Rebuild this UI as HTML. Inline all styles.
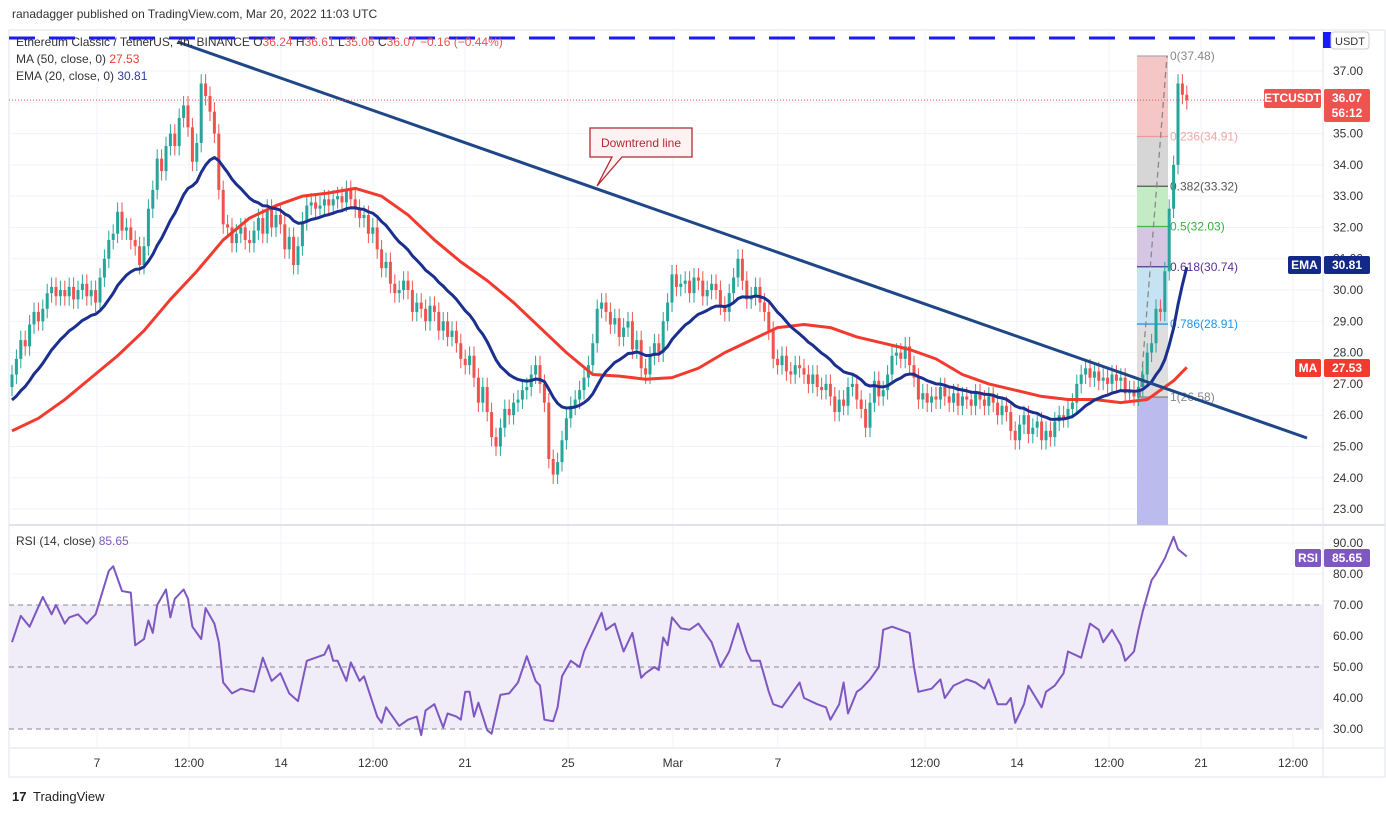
<!DOCTYPE html>
<html><head><meta charset="utf-8">
<style>
body{margin:0;background:#fff;font-family:"Liberation Sans",sans-serif;}
#wrap{position:relative;width:1386px;height:813px;overflow:hidden;}
svg text{font-family:"Liberation Sans",sans-serif;}
</style></head>
<body>
<div id="wrap">
<svg id="svg" width="1386" height="813"></svg>
</div>
<script>
const closes=[27.3,27.8,28.4,28.2,28.9,29.3,29.0,29.4,29.9,30.1,
29.8,30.0,29.8,30.1,29.7,30.0,30.2,29.8,30.0,29.6,
30.4,31.0,31.6,31.8,32.5,31.9,32.0,31.6,31.4,30.8,
31.4,32.6,33.2,34.2,33.8,34.6,35.0,34.6,35.5,35.9,
35.2,34.1,34.7,36.6,36.2,35.7,35.0,33.2,32.1,32.0,
31.5,31.8,32.0,31.6,31.5,31.9,32.3,31.8,32.6,32.0,
32.4,32.1,31.3,31.7,30.8,31.4,32.2,32.7,32.8,32.6,
32.7,32.9,32.7,32.9,33.0,32.8,33.2,32.9,32.6,32.3,
32.4,31.8,32.0,31.3,30.7,30.9,30.2,29.9,30.0,30.3,
30.0,29.3,29.6,29.4,29.0,29.5,29.3,28.7,29.0,28.5,
28.7,28.3,27.8,27.6,27.9,27.2,26.4,26.9,26.1,25.3,
25.0,25.6,26.2,26.0,26.4,26.5,26.8,26.9,27.3,27.6,
27.0,26.4,24.6,24.1,24.5,25.2,25.9,26.3,26.5,26.8,
27.2,27.6,28.3,29.4,29.6,29.3,28.9,29.1,28.5,28.8,
29.0,28.1,28.4,27.5,27.3,27.9,28.3,28.0,29.0,29.6,
30.5,30.1,30.2,30.3,29.9,30.4,30.3,29.8,30.0,30.2,
30.0,29.5,29.3,29.9,30.4,31.0,30.3,29.7,29.8,30.1,
29.6,29.3,28.7,27.8,27.6,27.9,27.4,27.3,27.6,27.5,
27.3,27.0,27.3,26.9,26.8,27.0,26.6,26.1,26.5,26.3,
26.9,27.0,26.5,26.2,25.6,26.4,27.1,26.6,26.8,27.3,
27.9,28.0,27.8,28.2,27.6,27.2,26.5,26.7,26.4,26.6,
26.5,26.9,26.6,26.4,26.7,26.3,26.6,26.5,26.3,26.7,
26.5,26.3,26.6,26.4,26.0,26.3,26.1,25.5,25.2,25.7,
26.0,25.4,25.6,25.8,25.2,25.5,25.3,25.8,26.0,25.9,
26.2,26.4,27.0,27.3,27.5,27.2,27.4,27.1,27.2,27.0,
27.3,27.1,27.2,26.7,26.8,26.6,26.9,27.3,28.0,28.3,
29.4,29.3,30.6,32.6,34.0,36.6,36.24,36.07];
const firstOpen=[26.9];
const maDaily=[25.5,25.9,26.5,27.2,27.9,28.7,29.7,30.6,31.6,32.3,32.7,33.0,33.1,33.25,33.0,32.4,31.6,30.9,30.3,29.6,28.8,28.0,27.3,27.25,27.15,27.2,27.5,28.0,28.4,28.8,28.9,28.8,28.5,28.3,28.1,27.8,27.3,27.0,26.8,26.6,26.5,26.5,26.4,26.5,27.1,27.53];
const emaSeed=[26.4];
const rsiIdx=[0,2,4,7,9,10,12,13,15,17,19,22,23,25,27,28,30,31,32,33,35,36,37,39,40,41,43,44,46,47,48,50,52,55,57,59,61,63,65,67,69,71,72,73,74,76,77,79,80,83,84,85,88,90,92,93,94,96,98,99,101,102,103,104,105,106,108,109,111,113,115,117,119,120,121,123,124,125,127,129,130,134,135,137,139,141,143,144,146,147,148,149,150,152,154,156,159,161,163,165,167,168,170,172,173,175,177,179,180,183,185,186,188,189,190,192,193,195,197,198,200,202,204,205,206,209,211,212,214,217,219,221,222,224,226,227,228,230,231,234,235,237,239,240,243,245,247,248,250,252,253,255,256,257,259,260,262,264,265,267];
const rsiVal=[58,66.5,63,72.6,67,70,64,66,67,64,67,81,82.5,74.5,74,57,59,65,61,70,75,66,72,75,72,63,59,69,64,58,45,41.5,43,42,53,45.5,48,41.5,39,52,53,54,57,52,52,45.5,51.5,45.5,47,34,32,37,31,33,34,28,36,38,30.5,35,34,33,42,42,34,38.5,29.6,28.5,41,41.5,45,53.5,45.5,44,33,32.5,37,47,52,50,55,67.5,62,64,55,61,46.5,48,50,49,59.5,57,66,62.5,62,64,58,50,55,64,55,52,52,42,38,37,41,45,40,38,37,33,38,45,35,42,43,46,50,62,63,62,61,50,42,43,46,40,44,46,45,43,46,38,38,40,32,38,44,37,42,44,48,55,53,64,62,58,62,57,52,55,62,68,78,80,85,92,88,85.65];
const priceTicks=[23,24,25,26,27,28,29,30,31,32,33,34,35,36,37];
const rsiTicks=[30,40,50,60,70,80,90];
const timeLabels=["7","12:00","14","12:00","21","25","Mar","7","12:00","14","12:00","21","12:00"];
const timeLabelDays=[0,0.5,1,1.5,2,2.56,3.13,3.7,4.5,5,5.5,6,6.5];
const fibLevels=[0,0.236,0.382,0.5,0.618,0.786,1];
const fibHigh=[37.48], fibLow=[26.58];

const NS="http://www.w3.org/2000/svg";
const svg=document.getElementById('svg');
function el(t,a,p){const e=document.createElementNS(NS,t);for(const k in a)e.setAttribute(k,a[k]);(p||svg).appendChild(e);return e;}
const yP=p=>71+(37-p)*31.29;
const xI=i=>12+i*4.4;
const yR=v=>543+(90-v)*3.1;
const xDay=d=>97+d*184;
const L=9,R=1323,TOP=30,MID=525,BOT=748;

el('rect',{x:L,y:TOP,width:1376,height:747,fill:'#fff',stroke:'#e0e3eb'});
for(const d of timeLabelDays){el('line',{x1:xDay(d),x2:xDay(d),y1:TOP,y2:BOT,stroke:'#f0f3fa'});}
for(const p of priceTicks){el('line',{x1:L,x2:R,y1:yP(p),y2:yP(p),stroke:'#f0f3fa'});}
for(const v of rsiTicks){el('line',{x1:L,x2:R,y1:yR(v),y2:yR(v),stroke:'#f0f3fa'});}
el('line',{x1:L,x2:1385,y1:MID,y2:MID,stroke:'#e0e3eb','stroke-width':2});
el('line',{x1:L,x2:1385,y1:BOT,y2:BOT,stroke:'#e0e3eb'});
el('line',{x1:R,x2:R,y1:TOP,y2:777,stroke:'#e0e3eb'});

let t=el('text',{x:12,y:18,'font-size':12,fill:'#333'});t.textContent='ranadagger published on TradingView.com, Mar 20, 2022 11:03 UTC';


const fH=fibHigh[0],fL=fibLow[0];
const fibFill=['#f4c7c6','#d6d6d6','#c3ecc4','#d5c6e4','#c5e3f3','#dedede'];
const fibLine=['#aaa','#e99','#555','#4caf50','#5b2e91','#2196f3','#888'];
const fibTxt=['#888','#f4a6a4','#555','#38b03c','#5b2e91','#2196f3','#888'];
const fx1=1137,fx2=1168;
for(let k=0;k<6;k++){const a=fH-(fH-fL)*fibLevels[k],b=fH-(fH-fL)*fibLevels[k+1];
 const r=el('rect',{x:fx1,y:yP(a),width:fx2-fx1,height:yP(b)-yP(a),fill:fibFill[k]});
 }
el('rect',{x:fx1,y:yP(fL),width:fx2-fx1,height:MID-yP(fL),fill:'#bcbbee'});
fibLevels.forEach((lv,k)=>{const p=fH-(fH-fL)*lv;
 el('line',{x1:fx1,x2:fx2,y1:yP(p),y2:yP(p),stroke:fibLine[k],'stroke-width':1.3});
 const tx=el('text',{x:fx2+2,y:yP(p)+4,'font-size':12,fill:fibTxt[k]});
 tx.textContent=lv+'('+p.toFixed(2)+')';
 });
el('line',{x1:1140,y1:yP(fL),x2:1167,y2:yP(fH),stroke:'#888','stroke-dasharray':'6,4','stroke-width':1.3});

for(let i=0;i<closes.length;i++){
 const o=i?closes[i-1]:firstOpen[0],c=closes[i];
 const up=c>=o,col=up?'#26a69a':'#ef5350';
 const hi=Math.max(o,c)+0.3,lo=Math.min(o,c)-0.3;
 el('line',{x1:xI(i),x2:xI(i),y1:yP(hi),y2:yP(lo),stroke:col,'stroke-width':1});
 const b=el('rect',{x:xI(i)-1.5,y:yP(Math.max(o,c)),width:3,height:Math.max(1,Math.abs(yP(o)-yP(c))),fill:col});
 
}
let d='';maDaily.forEach((v,k)=>{const i=Math.min(k*6,closes.length-1);d+=(k?'L':'M')+xI(i)+','+yP(v);});
let ma=el('path',{d,fill:'none',stroke:'#f23b2e','stroke-width':3,'stroke-linejoin':'round'});

let e=emaSeed[0],al=2/21;d='';
closes.forEach((c,i)=>{e=e+al*(c-e);d+=(i?'L':'M')+xI(i)+','+yP(e);});
let em=el('path',{d,fill:'none',stroke:'#1b2f8f','stroke-width':3,'stroke-linejoin':'round'});

let tl=el('line',{x1:178,y1:42,x2:1307,y2:438,stroke:'#1f4788','stroke-width':3});

el('line',{x1:L,x2:R,y1:38,y2:38,stroke:'#1a1aff','stroke-width':3,'stroke-dasharray':'26,14'});
el('rect',{x:R,y:32,width:8,height:16,fill:'#1a1aff'});
el('line',{x1:L,x2:R,y1:yP(closes[closes.length-1]),y2:yP(closes[closes.length-1]),stroke:'#ef5350','stroke-dasharray':'1,2'});

const cg=el('g',{});
el('path',{d:'M590,128 H692 V157 H622 L597,186 L612,157 H590 Z',fill:'#fff2f2',stroke:'#b22833','stroke-width':1.3},cg);
t=el('text',{x:641,y:147,'font-size':12,fill:'#b22833','text-anchor':'middle'},cg);t.textContent='Downtrend line';

t=el('text',{x:16,y:46,'font-size':12,fill:'#333'});
t.innerHTML='Ethereum Classic / TetherUS, 4h, BINANCE  O<tspan fill="#ef5350">36.24</tspan>  H<tspan fill="#ef5350">36.61</tspan>  L<tspan fill="#ef5350">35.06</tspan>  C<tspan fill="#ef5350">36.07  −0.16 (−0.44%)</tspan>';

t=el('text',{x:16,y:63,'font-size':12,fill:'#333'});t.innerHTML='MA (50, close, 0)  <tspan fill="#f23b2e">27.53</tspan>';

t=el('text',{x:16,y:80,'font-size':12,fill:'#333'});t.innerHTML='EMA (20, close, 0)  <tspan fill="#2a3f9f">30.81</tspan>';


el('rect',{x:L,y:yR(70),width:R-L,height:yR(30)-yR(70),fill:'#f0ecf8'});
for(const v of [70,50,30])el('line',{x1:L,x2:R,y1:yR(v),y2:yR(v),stroke:'#8a8790','stroke-dasharray':'5,4'});
let rd='';rsiIdx.forEach((ix,k)=>{rd+=(k?'L':'M')+xI(ix)+','+yR(rsiVal[k]);});
let rl=el('path',{d:rd,fill:'none',stroke:'#7e57c2','stroke-width':2,'stroke-linejoin':'round'});

t=el('text',{x:16,y:545,'font-size':12,fill:'#333'});t.innerHTML='RSI (14, close)  <tspan fill="#7e57c2">85.65</tspan>';


for(const p of priceTicks){t=el('text',{x:1333,y:yP(p)+4,'font-size':12,fill:'#333'});t.textContent=p.toFixed(2);
 }
for(const v of rsiTicks){t=el('text',{x:1333,y:yR(v)+4,'font-size':12,fill:'#333'});t.textContent=v.toFixed(2);
 }
timeLabels.forEach((s,k)=>{t=el('text',{x:xDay(timeLabelDays[k]),y:767,'font-size':12,fill:'#333','text-anchor':'middle'});t.textContent=s;
 });

function tag(x,y,w,h,fill,txt,name){const g=el('g',{});
 el('rect',{x,y,width:w,height:h,fill,rx:2},g);
 txt.forEach((s,k)=>{const q=el('text',{x:x+w/2,y:y+13+k*15,'font-size':12,fill:'#fff','text-anchor':'middle','font-weight':'bold'},g);q.textContent=s;});}
t=el('text',{x:1350,y:45,'font-size':11,fill:'#333','text-anchor':'middle'});t.textContent='USDT';

el('rect',{x:1331,y:32,width:38,height:17,fill:'none',stroke:'#ccc',rx:3});
tag(1264,89,57,19,'#ef5350',['ETCUSDT'],'symbol-tag');
tag(1324,89,46,33,'#ef5350',['36.07','56:12'],'last-price-tag');
tag(1288,256,33,18,'#12298a',['EMA'],'ema-tag');
tag(1324,256,46,18,'#12298a',['30.81'],'ema-value-tag');
tag(1295,359,26,18,'#f23b2e',['MA'],'ma-tag');
tag(1324,359,46,18,'#f23b2e',['27.53'],'ma-value-tag');
tag(1295,549,26,18,'#7e57c2',['RSI'],'rsi-tag');
tag(1324,549,46,18,'#7e57c2',['85.65'],'rsi-value-tag');

t=el('text',{x:12,y:801,'font-size':13,fill:'#222','font-weight':'bold'});t.textContent='17';
t=el('text',{x:33,y:801,'font-size':13,fill:'#222'});t.textContent='TradingView';

</script>
</body></html>
